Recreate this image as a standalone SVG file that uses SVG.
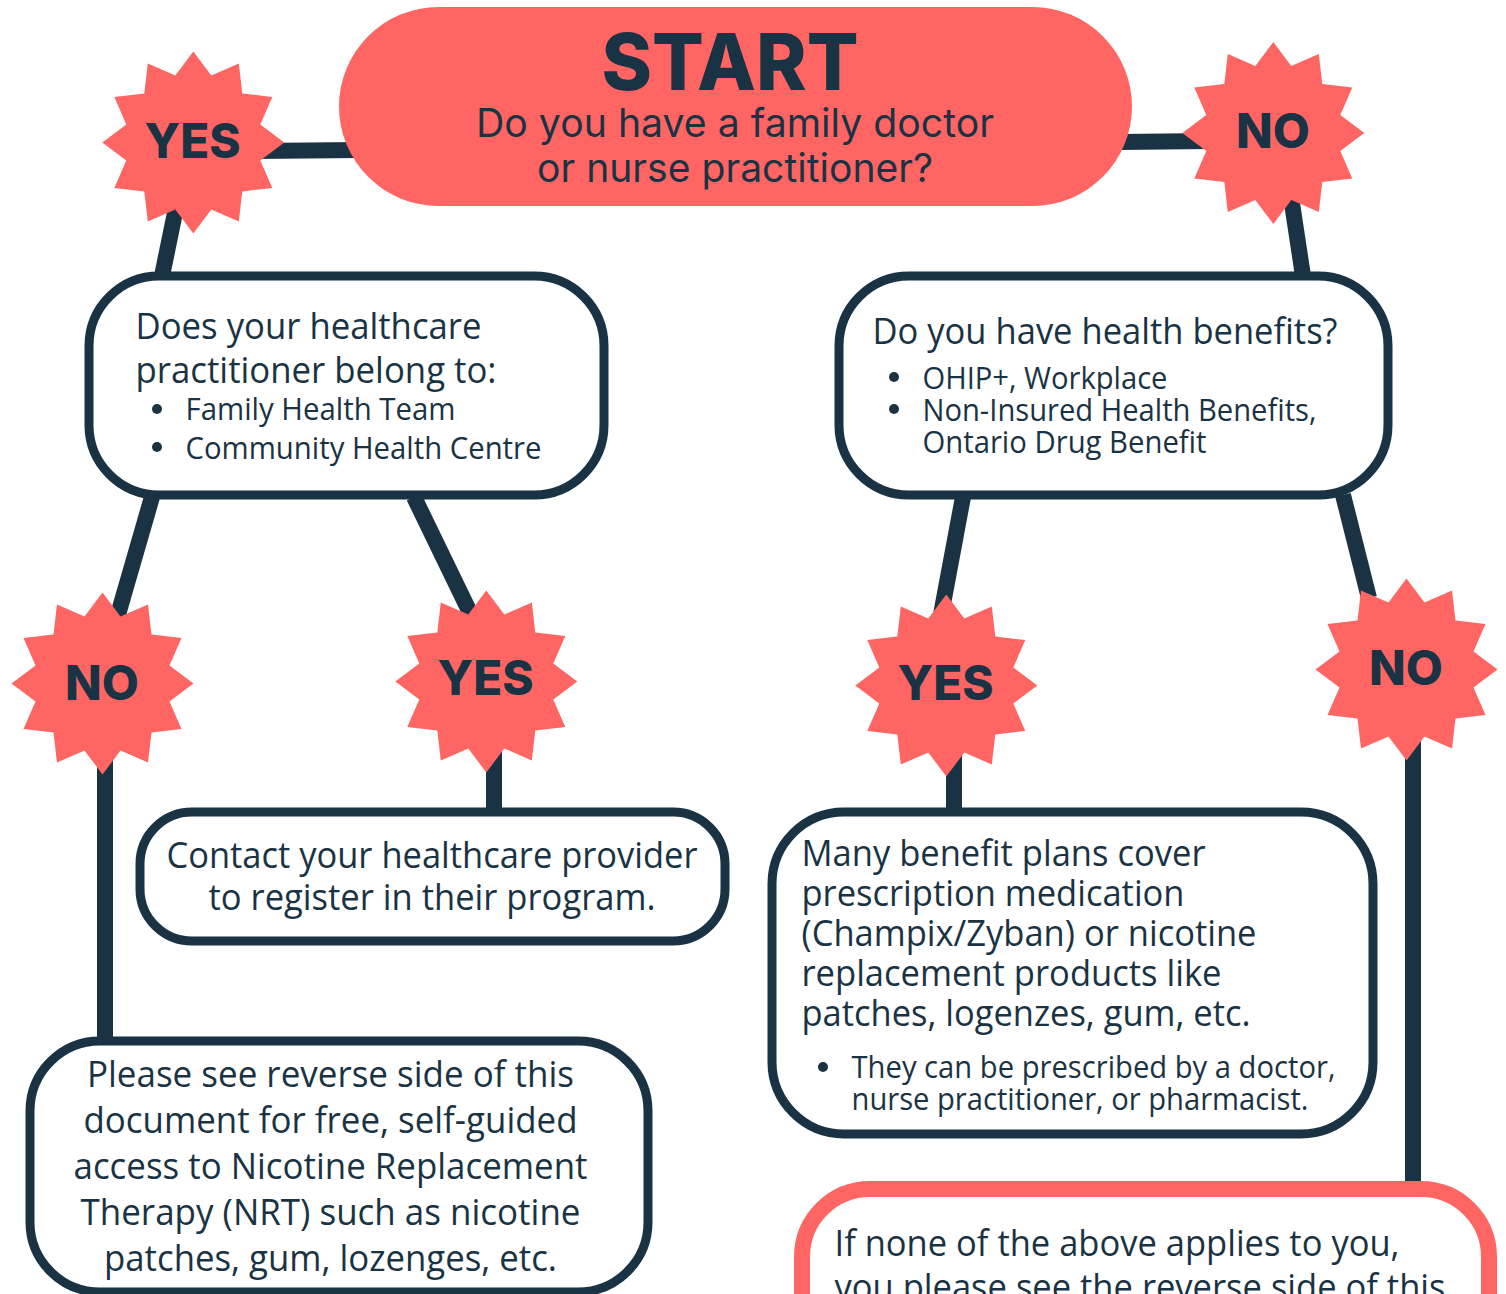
<svg xmlns="http://www.w3.org/2000/svg" xmlns:xlink="http://www.w3.org/1999/xlink" width="1506" height="1294" viewBox="0 0 1506 1294">
<style>
.c{stroke:#1a3344;stroke-width:16;fill:none}
.b{fill:#fff;stroke:#1a3344;stroke-width:9}
.s{fill:#ff6663}
.d{fill:#1a3344}
.t{font-family:"Open Sans","Noto Sans",sans-serif;fill:#1a3344}
.m{text-anchor:middle}
.k{font-family:Inter,"Liberation Sans",sans-serif;font-weight:800;fill:#1a3344;text-anchor:middle;font-size:48px}
.q{font-family:Inter,"Liberation Sans",sans-serif;fill:#1a3344;text-anchor:middle;font-size:39px}
.f36{font-size:36px}.f32{font-size:31px}.f38{font-size:36.5px}
</style>
<defs><polygon id="star" points="0,-91 18,-67 45.5,-79 49,-49 79,-45.5 67,-18 91,0 67,18 79,45.5 49,49 45.5,79 18,67 0,91 -18,67 -45.5,79 -49,49 -79,45.5 -67,18 -91,0 -67,-18 -79,-45.5 -49,-49 -45.5,-79 -18,-67"/></defs>
<rect width="1506" height="1294" fill="#fff"/>
<g id="connectors">
<path class="c" d="M250,151L360,150"/>
<path class="c" d="M1120,142L1210,141"/>
<path class="c" d="M178,198L162,276"/>
<path class="c" d="M1290,190L1303,276"/>
<path class="c" d="M152,497L115,625"/>
<path class="c" d="M414,497L476,625"/>
<path class="c" d="M963,497L940,620"/>
<path class="c" d="M1343,495L1369,598"/>
<path class="c" d="M105,745V1042"/>
<path class="c" d="M494,740V812"/>
<path class="c" d="M954,740V812"/>
<path class="c" d="M1413,730V1185"/>
</g>
<g id="start"><rect class="s" x="339" y="7" width="793" height="199" rx="99.5"/>
<text class="k" x="730" y="89.500" style="font-size:78px" textLength="257" lengthAdjust="spacingAndGlyphs">START</text>
<text class="q" x="735" y="137" textLength="518" lengthAdjust="spacingAndGlyphs">Do you have a family doctor</text>
<text class="q" x="735" y="182" textLength="396" lengthAdjust="spacingAndGlyphs">or nurse practitioner?</text></g>
<g id="yes-1"><use xlink:href="#star" href="#star" class="s" x="193.300" y="142.400"/><text class="k" x="192.500" y="158" textLength="96" lengthAdjust="spacingAndGlyphs">YES</text></g>
<g id="no-1"><use xlink:href="#star" href="#star" class="s" x="1273.300" y="133"/><text class="k" x="1273" y="148">NO</text></g>
<g id="no-2"><use xlink:href="#star" href="#star" class="s" x="102.500" y="683.500"/><text class="k" x="102" y="700">NO</text></g>
<g id="yes-2"><use xlink:href="#star" href="#star" class="s" x="486.300" y="681.500"/><text class="k" x="485.500" y="695" textLength="96" lengthAdjust="spacingAndGlyphs">YES</text></g>
<g id="yes-3"><use xlink:href="#star" href="#star" class="s" x="946.300" y="685.500"/><text class="k" x="945.500" y="700" textLength="96" lengthAdjust="spacingAndGlyphs">YES</text></g>
<g id="no-3"><use xlink:href="#star" href="#star" class="s" x="1406.500" y="669.500"/><text class="k" x="1406" y="685">NO</text></g>
<g id="q-practitioner"><rect class="b" x="89" y="276" width="515" height="219" rx="70"/>
<text class="t f36" x="135.500" y="338.500" textLength="346" lengthAdjust="spacingAndGlyphs">Does your healthcare</text>
<text class="t f36" x="135.500" y="382.500" textLength="361" lengthAdjust="spacingAndGlyphs">practitioner belong to:</text>
<circle class="d" cx="157" cy="409" r="5"/><circle class="d" cx="157" cy="447" r="5"/>
<text class="t f32" x="185.500" y="420" textLength="270" lengthAdjust="spacingAndGlyphs">Family Health Team</text>
<text class="t f32" x="185.500" y="458.500" textLength="356" lengthAdjust="spacingAndGlyphs">Community Health Centre</text></g>
<g id="q-benefits"><rect class="b" x="839" y="276" width="549" height="219" rx="70"/>
<text class="t f36" x="872.500" y="344" textLength="465" lengthAdjust="spacingAndGlyphs">Do you have health benefits?</text>
<circle class="d" cx="894" cy="377" r="5"/><circle class="d" cx="894" cy="409" r="5"/>
<text class="t f32" x="922.500" y="388.500" textLength="245" lengthAdjust="spacingAndGlyphs">OHIP+, Workplace</text>
<text class="t f32" x="922.500" y="420.500" textLength="394" lengthAdjust="spacingAndGlyphs">Non-Insured Health Benefits,</text>
<text class="t f32" x="922.500" y="452.500" textLength="284" lengthAdjust="spacingAndGlyphs">Ontario Drug Benefit</text></g>
<g id="contact"><rect class="b" x="140" y="812" width="585" height="129" rx="52"/>
<text class="t f38 m" x="432" y="868" textLength="531" lengthAdjust="spacingAndGlyphs">Contact your healthcare provider</text>
<text class="t f38 m" x="432" y="910" textLength="447" lengthAdjust="spacingAndGlyphs">to register in their program.</text></g>
<g id="reverse"><rect class="b" x="30" y="1041" width="618" height="251" rx="70"/>
<text class="t f36 m" x="330.500" y="1086.500" textLength="487" lengthAdjust="spacingAndGlyphs">Please see reverse side of this</text>
<text class="t f36 m" x="330.500" y="1132.500" textLength="494" lengthAdjust="spacingAndGlyphs">document for free, self-guided</text>
<text class="t f36 m" x="330.500" y="1178.500" textLength="514" lengthAdjust="spacingAndGlyphs">access to Nicotine Replacement</text>
<text class="t f36 m" x="330.500" y="1224.500" textLength="500" lengthAdjust="spacingAndGlyphs">Therapy (NRT) such as nicotine</text>
<text class="t f36 m" x="330.500" y="1270.500" textLength="453" lengthAdjust="spacingAndGlyphs">patches, gum, lozenges, etc.</text></g>
<g id="plans"><rect class="b" x="772" y="812" width="601" height="322" rx="72"/>
<text class="t f36" x="801.500" y="865.500" textLength="404" lengthAdjust="spacingAndGlyphs">Many benefit plans cover</text>
<text class="t f36" x="801.500" y="905.500" textLength="383" lengthAdjust="spacingAndGlyphs">prescription medication</text>
<text class="t f36" x="801.500" y="945.500" textLength="455" lengthAdjust="spacingAndGlyphs">(Champix/Zyban) or nicotine</text>
<text class="t f36" x="801.500" y="985.500" textLength="420" lengthAdjust="spacingAndGlyphs">replacement products like</text>
<text class="t f36" x="801.500" y="1025.500" textLength="449" lengthAdjust="spacingAndGlyphs">patches, logenzes, gum, etc.</text>
<circle class="d" cx="823" cy="1067" r="5"/>
<text class="t f32" x="851.500" y="1078" textLength="484" lengthAdjust="spacingAndGlyphs">They can be prescribed by a doctor,</text>
<text class="t f32" x="851.500" y="1110" textLength="457" lengthAdjust="spacingAndGlyphs">nurse practitioner, or pharmacist.</text></g>
<g id="none"><rect x="802" y="1189" width="687" height="200" rx="68" fill="#fff" stroke="#ff6663" stroke-width="16"/>
<text class="t f36" x="834.500" y="1255.500" textLength="565" lengthAdjust="spacingAndGlyphs">If none of the above applies to you,</text>
<text class="t f36" x="834.500" y="1299.500" textLength="611" lengthAdjust="spacingAndGlyphs">you please see the reverse side of this</text></g>
</svg>
